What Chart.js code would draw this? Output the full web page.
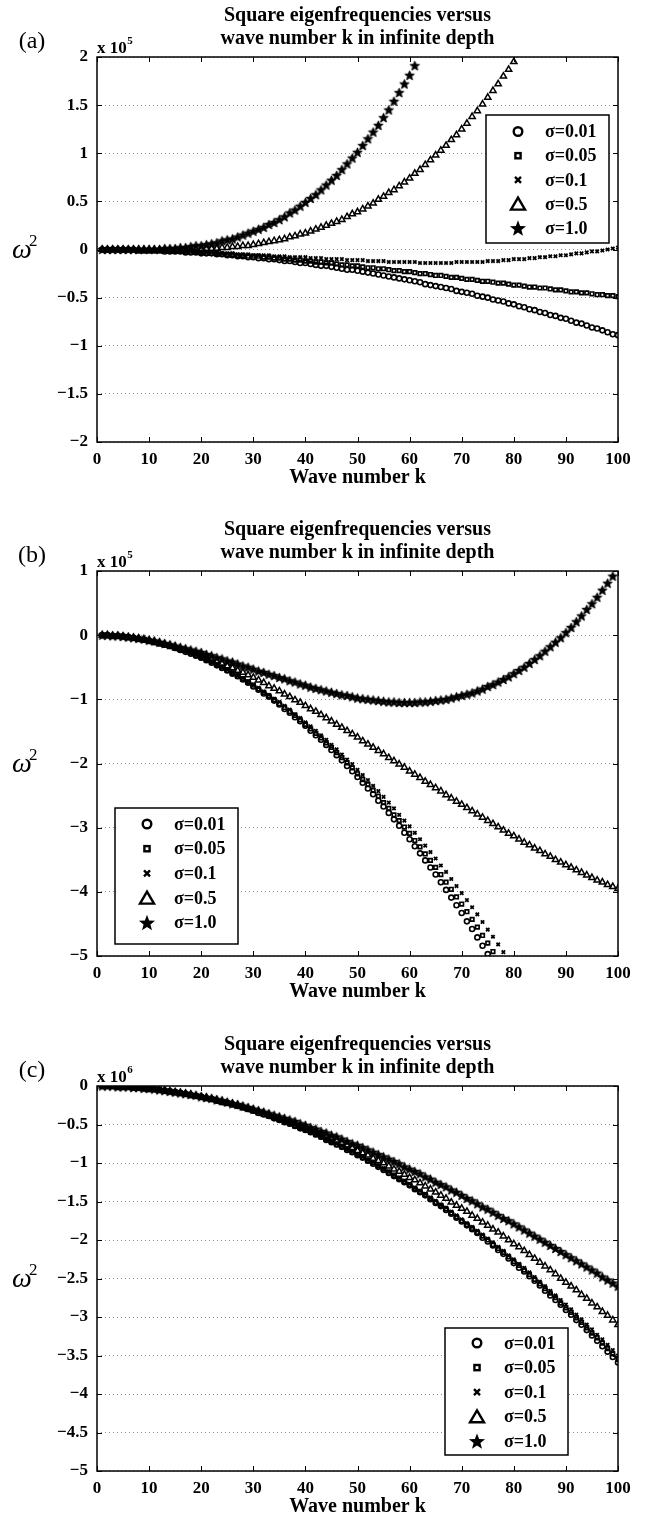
<!DOCTYPE html>
<html>
<head>
<meta charset="utf-8">
<script src="https://cdn.jsdelivr.net/npm/chart.js@4.4.1/dist/chart.umd.min.js"></script>
<style>
  html, body { margin: 0; padding: 0; background: #fff; }
  body { position: relative; width: 646px; height: 1520px; overflow: hidden; }
  .panel { position: absolute; left: 0; width: 646px; height: 491px; }
</style>
</head>
<body>
<div class="panel" style="top:0"><canvas id="chart-a" width="646" height="491"></canvas></div>
<div class="panel" style="top:514px"><canvas id="chart-b" width="646" height="491"></canvas></div>
<div class="panel" style="top:1029px"><canvas id="chart-c" width="646" height="491"></canvas></div>
<script>
// Square eigenfrequencies vs wave number k — three panels

const WAVE_K = Array.from({ length: 100 }, (_, i) => i + 1);
const SIGMA_LABELS = ['σ=0.01', 'σ=0.05', 'σ=0.1', 'σ=0.5', 'σ=1.0'];
const X_TICKS = [0, 10, 20, 30, 40, 50, 60, 70, 80, 90, 100];
const Y_TICKS_A = [-2, -1.5, -1, -0.5, 0, 0.5, 1, 1.5, 2];
const Y_TICKS_B = [-5, -4, -3, -2, -1, 0, 1];
const Y_TICKS_C = [-5, -4.5, -4, -3.5, -3, -2.5, -2, -1.5, -1, -0.5, 0];

// panel (a), omega^2 in units of 1e3
const A_SIG001 = [
  0, 0, 0, 0, 0, 0, 0, -1, -1, -1,
  -1, -1, -2, -2, -2, -2, -3, -3, -3, -4,
  -4, -4, -5, -5, -6, -6, -7, -7, -8, -8,
  -9, -9, -10, -10, -11, -12, -12, -13, -14, -14,
  -15, -16, -17, -17, -18, -19, -20, -21, -21, -22,
  -23, -24, -25, -26, -27, -28, -29, -30, -31, -32,
  -33, -34, -36, -37, -38, -39, -40, -41, -43, -44,
  -45, -46, -48, -49, -50, -52, -53, -54, -56, -57,
  -59, -60, -62, -63, -65, -66, -68, -69, -71, -72,
  -74, -76, -77, -79, -81, -82, -84, -86, -88, -89];
const A_SIG005 = [
  0, 0, 0, 0, 0, 0, 0, -1, -1, -1,
  -1, -1, -1, -2, -2, -2, -2, -3, -3, -3,
  -4, -4, -4, -5, -5, -5, -6, -6, -7, -7,
  -7, -8, -8, -9, -9, -10, -10, -11, -11, -12,
  -12, -13, -13, -14, -14, -15, -16, -16, -17, -17,
  -18, -19, -19, -20, -20, -21, -22, -22, -23, -23,
  -24, -25, -25, -26, -27, -27, -28, -29, -29, -30,
  -31, -31, -32, -33, -33, -34, -35, -35, -36, -37,
  -37, -38, -39, -39, -40, -40, -41, -42, -42, -43,
  -44, -44, -45, -45, -46, -47, -47, -48, -48, -49];
const A_SIG01 = [
  0, 0, 0, 0, 0, 0, 0, -1, -1, -1,
  -1, -1, -1, -2, -2, -2, -2, -2, -3, -3,
  -3, -3, -4, -4, -4, -4, -5, -5, -5, -6,
  -6, -6, -6, -7, -7, -7, -8, -8, -8, -8,
  -9, -9, -9, -10, -10, -10, -10, -11, -11, -11,
  -11, -12, -12, -12, -12, -13, -13, -13, -13, -13,
  -13, -14, -14, -14, -14, -14, -14, -14, -13, -13,
  -13, -13, -13, -13, -12, -12, -12, -11, -11, -10,
  -10, -10, -9, -9, -8, -8, -7, -7, -6, -6,
  -5, -4, -4, -3, -2, -2, -1, 0, 1, 2];
const A_SIG05 = [
  0, 0, 0, 0, 0, 0, 0, 0, 0, 0,
  0, 0, 0, 0, 0, 0, 0, 0, 0, 0,
  1, 1, 1, 2, 2, 3, 3, 4, 4, 5,
  6, 7, 8, 9, 10, 11, 13, 14, 16, 17,
  19, 21, 23, 25, 27, 29, 31, 34, 37, 39,
  42, 45, 48, 52, 55, 59, 62, 66, 70, 74,
  79, 83, 88, 93, 98, 103, 108, 114, 119, 125,
  131, 138, 144, 151, 158, 165, 172, 180, 187, 195];
const A_SIG10 = [
  0, 0, 0, 0, 0, 0, 0, 0, 0, 0,
  0, 0, 1, 1, 1, 2, 2, 3, 4, 4,
  5, 6, 7, 9, 10, 11, 13, 15, 17, 19,
  21, 23, 26, 28, 31, 34, 38, 41, 45, 49,
  53, 57, 62, 67, 72, 77, 83, 89, 95, 101,
  108, 115, 122, 129, 137, 145, 154, 163, 172, 181,
  191];

// panel (b), omega^2 in units of 1e3
const B_SIG001 = [
  0, 0, -1, -1, -2, -3, -4, -6, -7, -9,
  -11, -13, -15, -17, -20, -23, -26, -29, -32, -35,
  -39, -43, -47, -51, -55, -60, -64, -69, -74, -80,
  -85, -91, -96, -102, -108, -115, -121, -128, -134, -141,
  -149, -156, -163, -171, -179, -187, -195, -204, -212, -221,
  -230, -239, -248, -258, -267, -277, -287, -297, -308, -318,
  -329, -340, -351, -362, -373, -385, -397, -409, -421, -433,
  -446, -458, -471, -484, -497];
const B_SIG005 = [
  0, 0, -1, -1, -2, -3, -4, -6, -7, -9,
  -11, -13, -15, -17, -20, -22, -25, -28, -32, -35,
  -39, -42, -46, -50, -55, -59, -64, -68, -73, -78,
  -84, -89, -95, -101, -107, -113, -119, -125, -132, -139,
  -146, -153, -160, -168, -175, -183, -191, -199, -207, -216,
  -225, -233, -242, -251, -261, -270, -280, -289, -299, -309,
  -320, -330, -341, -351, -362, -373, -385, -396, -408, -419,
  -431, -443, -455, -468, -480, -493];
const B_SIG01 = [
  0, 0, -1, -1, -2, -3, -4, -6, -7, -9,
  -11, -13, -15, -17, -20, -22, -25, -28, -31, -35,
  -38, -42, -46, -50, -54, -58, -63, -67, -72, -77,
  -82, -88, -93, -99, -104, -110, -116, -123, -129, -136,
  -142, -149, -156, -163, -171, -178, -186, -194, -201, -210,
  -218, -226, -235, -243, -252, -261, -270, -280, -289, -298,
  -308, -318, -328, -338, -348, -359, -369, -380, -391, -402,
  -413, -424, -435, -447, -459, -470, -482, -494];
const B_SIG05 = [
  0, 0, -1, -1, -2, -3, -4, -5, -7, -8,
  -10, -12, -14, -16, -18, -21, -23, -26, -29, -31,
  -34, -38, -41, -44, -48, -51, -55, -58, -62, -66,
  -70, -74, -79, -83, -87, -92, -96, -101, -105, -110,
  -115, -119, -124, -129, -134, -139, -144, -149, -154, -159,
  -165, -170, -175, -180, -185, -191, -196, -201, -206, -212,
  -217, -222, -228, -233, -238, -243, -249, -254, -259, -264,
  -269, -274, -279, -284, -289, -294, -299, -304, -309, -313,
  -318, -323, -327, -332, -336, -341, -345, -350, -354, -358,
  -362, -366, -370, -374, -378, -382, -385, -389, -392, -395];
const B_SIG10 = [
  0, 0, -1, -1, -2, -3, -4, -5, -6, -8,
  -9, -11, -13, -15, -17, -19, -21, -23, -25, -27,
  -30, -32, -35, -37, -40, -42, -45, -48, -50, -53,
  -56, -58, -61, -63, -66, -68, -71, -73, -76, -78,
  -81, -83, -85, -87, -89, -91, -93, -94, -96, -98,
  -99, -100, -101, -102, -103, -104, -104, -105, -105, -105,
  -105, -104, -104, -103, -102, -101, -100, -98, -96, -94,
  -92, -90, -87, -84, -80, -77, -73, -69, -65, -60,
  -55, -50, -44, -38, -32, -25, -18, -11, -4, 4,
  12, 21, 30, 40, 49, 59, 70, 81, 92];

// panel (c), omega^2 in units of 1e4
const C_SIG001 = [
  0, 0, 0, -1, -1, -1, -2, -2, -3, -4,
  -4, -5, -6, -7, -8, -9, -10, -12, -13, -14,
  -16, -17, -19, -21, -22, -24, -26, -28, -30, -32,
  -35, -37, -39, -42, -44, -47, -49, -52, -55, -57,
  -60, -63, -66, -70, -73, -76, -79, -83, -86, -90,
  -93, -97, -101, -105, -109, -113, -117, -121, -125, -129,
  -134, -138, -142, -147, -152, -156, -161, -166, -171, -176,
  -181, -186, -191, -197, -202, -207, -213, -218, -224, -230,
  -236, -241, -247, -253, -259, -266, -272, -278, -284, -291,
  -297, -304, -310, -317, -324, -331, -338, -345, -352, -359];
const C_SIG005 = [
  0, 0, 0, -1, -1, -1, -2, -2, -3, -4,
  -4, -5, -6, -7, -8, -9, -10, -12, -13, -14,
  -16, -17, -19, -21, -22, -24, -26, -28, -30, -32,
  -34, -37, -39, -41, -44, -46, -49, -52, -54, -57,
  -60, -63, -66, -69, -72, -76, -79, -82, -86, -89,
  -93, -97, -100, -104, -108, -112, -116, -120, -124, -128,
  -133, -137, -141, -146, -151, -155, -160, -165, -170, -175,
  -180, -185, -190, -195, -200, -206, -211, -216, -222, -228,
  -233, -239, -245, -251, -257, -263, -269, -275, -282, -288,
  -294, -301, -307, -314, -321, -327, -334, -341, -348, -355];
const C_SIG01 = [
  0, 0, 0, -1, -1, -1, -2, -2, -3, -4,
  -4, -5, -6, -7, -8, -9, -10, -12, -13, -14,
  -16, -17, -19, -21, -22, -24, -26, -28, -30, -32,
  -34, -36, -39, -41, -44, -46, -49, -51, -54, -57,
  -60, -63, -66, -69, -72, -75, -78, -82, -85, -89,
  -92, -96, -99, -103, -107, -111, -115, -119, -123, -127,
  -132, -136, -140, -145, -149, -154, -158, -163, -168, -173,
  -178, -183, -188, -193, -198, -203, -209, -214, -220, -225,
  -231, -236, -242, -248, -254, -260, -266, -272, -278, -284,
  -290, -297, -303, -310, -316, -323, -329, -336, -343, -350];
const C_SIG05 = [
  0, 0, 0, -1, -1, -1, -2, -2, -3, -4,
  -4, -5, -6, -7, -8, -9, -10, -11, -13, -14,
  -15, -17, -18, -20, -22, -23, -25, -27, -29, -31,
  -33, -35, -37, -40, -42, -44, -47, -49, -52, -54,
  -57, -60, -62, -65, -68, -71, -74, -77, -80, -84,
  -87, -90, -94, -97, -100, -104, -108, -111, -115, -119,
  -122, -126, -130, -134, -138, -142, -146, -151, -155, -159,
  -163, -168, -172, -177, -181, -186, -190, -195, -200, -205,
  -209, -214, -219, -224, -229, -234, -239, -244, -250, -255,
  -260, -265, -271, -276, -282, -287, -293, -298, -304, -310];
const C_SIG10 = [
  0, 0, 0, -1, -1, -1, -2, -2, -3, -3,
  -4, -5, -6, -7, -8, -9, -10, -11, -12, -14,
  -15, -16, -18, -19, -21, -23, -24, -26, -28, -30,
  -32, -34, -36, -38, -40, -42, -44, -46, -49, -51,
  -54, -56, -59, -61, -64, -66, -69, -72, -75, -77,
  -80, -83, -86, -89, -92, -95, -98, -101, -105, -108,
  -111, -114, -118, -121, -125, -128, -131, -135, -138, -142,
  -146, -149, -153, -157, -160, -164, -168, -172, -175, -179,
  -183, -187, -191, -195, -199, -203, -207, -211, -215, -219,
  -223, -227, -231, -235, -239, -243, -248, -252, -256, -260];

const SERIF = '"Liberation Serif", "Times New Roman", serif';
const TICK_FONT = { family: SERIF, size: 17, weight: 'bold' };

function starPath(ctx, cx, cy, ro, ri) {
  ctx.beginPath();
  for (let i = 0; i < 10; i++) {
    const r = i % 2 ? ri : ro;
    const ang = -Math.PI / 2 + i * Math.PI / 5;
    ctx.lineTo(cx + r * Math.cos(ang), cy + r * Math.sin(ang));
  }
  ctx.closePath();
}

function starImage(ro) {
  const c = document.createElement('canvas');
  const s = Math.ceil(ro * 2) + 3;
  c.width = c.height = s;
  const g = c.getContext('2d');
  starPath(g, s / 2, s / 2 + 0.4, ro, ro * 0.45);
  g.fillStyle = '#000';
  g.fill();
  g.strokeStyle = '#000';
  g.lineWidth = 0.8;
  g.stroke();
  return c;
}

const MARKERS = [
  { pointStyle: 'circle', pointRadius: 2.5, pointBorderWidth: 1.6 },
  { pointStyle: 'rect', pointRadius: 2.5, pointBorderWidth: 1.7 },
  { pointStyle: 'crossRot', pointRadius: 2.4, pointBorderWidth: 1.8 },
  { pointStyle: 'triangle', pointRadius: 3.6, pointBorderWidth: 1.5 },
  { pointStyle: starImage(5), pointRadius: 5, pointBorderWidth: 0 },
];

function legendMarker(ctx, i, x, y) {
  ctx.save();
  ctx.strokeStyle = '#000';
  ctx.fillStyle = '#000';
  ctx.lineWidth = 2.4;
  ctx.beginPath();
  if (i === 0) {
    ctx.arc(x, y, 4.3, 0, Math.PI * 2);
    ctx.stroke();
  } else if (i === 1) {
    ctx.strokeRect(x - 2.6, y - 2.6, 5.2, 5.2);
  } else if (i === 2) {
    ctx.moveTo(x - 3, y - 3); ctx.lineTo(x + 3, y + 3);
    ctx.moveTo(x + 3, y - 3); ctx.lineTo(x - 3, y + 3);
    ctx.stroke();
  } else if (i === 3) {
    ctx.moveTo(x, y - 6.5); ctx.lineTo(x + 7, y + 5.5); ctx.lineTo(x - 7, y + 5.5);
    ctx.closePath();
    ctx.stroke();
  } else {
    starPath(ctx, x, y + 0.5, 8.5, 3.6);
    ctx.fill();
  }
  ctx.restore();
}

function fmtTick(v) {
  return v < 0 ? '\u2212' + (-v) : String(v);
}

const panelDecor = {
  id: 'panelDecor',
  afterDraw(chart, args, opts) {
    const { ctx, chartArea: a, scales: { x, y } } = chart;
    const cx = (a.left + a.right) / 2;
    const cy = (a.top + a.bottom) / 2;
    ctx.save();

    // box and inward ticks
    ctx.strokeStyle = '#000';
    ctx.lineWidth = 1.5;
    ctx.strokeRect(a.left, a.top, a.right - a.left, a.bottom - a.top);
    ctx.lineWidth = 1;
    ctx.beginPath();
    X_TICKS.forEach(v => {
      const px = Math.round(x.getPixelForValue(v)) + 0.5;
      ctx.moveTo(px, a.bottom); ctx.lineTo(px, a.bottom - 5);
      ctx.moveTo(px, a.top); ctx.lineTo(px, a.top + 5);
    });
    opts.yTicks.forEach(v => {
      const py = Math.round(y.getPixelForValue(v)) + 0.5;
      ctx.moveTo(a.left, py); ctx.lineTo(a.left + 5, py);
      ctx.moveTo(a.right, py); ctx.lineTo(a.right - 5, py);
    });
    ctx.stroke();

    // titles and labels
    ctx.fillStyle = '#000';
    ctx.textAlign = 'center';
    ctx.textBaseline = 'middle';
    ctx.font = 'bold 20px ' + SERIF;
    ctx.fillText('Square eigenfrequencies versus', cx, 16);
    ctx.fillText('wave number k in infinite depth', cx, 39);
    ctx.fillText('Wave number k', cx, 478);
    ctx.font = '24px ' + SERIF;
    ctx.fillText(opts.tag, 32, 42);

    ctx.textAlign = 'left';
    ctx.font = 'bold 17px ' + SERIF;
    ctx.fillText('x 10', a.left, 49);
    const w = ctx.measureText('x 10').width;
    ctx.font = 'bold 11px ' + SERIF;
    ctx.fillText(opts.exp, a.left + w + 0.5, 41);

    ctx.font = 'italic 28px ' + SERIF;
    ctx.fillText('ω', 12, cy + 1);
    ctx.font = '17px ' + SERIF;
    ctx.fillText('2', 29, cy - 8);

    // legend
    const lg = opts.legend;
    ctx.fillStyle = '#fff';
    ctx.fillRect(lg.left, lg.top, lg.width, lg.height);
    ctx.strokeStyle = '#000';
    ctx.lineWidth = 1.5;
    ctx.strokeRect(lg.left, lg.top, lg.width, lg.height);
    ctx.font = 'bold 18px ' + SERIF;
    SIGMA_LABELS.forEach((label, i) => {
      const ry = lg.top + lg.first + i * lg.gap;
      legendMarker(ctx, i, lg.left + 32, ry);
      ctx.fillStyle = '#000';
      ctx.fillText(label, lg.left + 59, ry + 1);
    });
    ctx.restore();
  }
};

function buildPanel(id, sets, yMin, yMax, yTicks, decor) {
  new Chart(document.getElementById(id), {
    type: 'scatter',
    data: {
      datasets: sets.map((vals, i) => ({
        label: SIGMA_LABELS[i],
        data: vals.map((v, j) => ({ x: WAVE_K[j], y: v / 100 })),
        order: sets.length - i,
        showLine: false,
        pointBorderColor: '#000',
        pointBackgroundColor: 'rgba(0,0,0,0)',
        ...MARKERS[i],
      })),
    },
    options: {
      responsive: false,
      animation: false,
      devicePixelRatio: 1,
      events: [],
      layout: { padding: { top: 57, right: 28, left: 0, bottom: 0 } },
      plugins: {
        legend: { display: false },
        tooltip: { enabled: false },
        panelDecor: { yTicks, ...decor },
      },
      scales: {
        x: {
          type: 'linear',
          min: 0,
          max: 100,
          afterFit: s => { s.height = 49; },
          afterBuildTicks: s => { s.ticks = X_TICKS.map(v => ({ value: v })); },
          grid: { display: false, drawTicks: false },
          border: { display: false },
          ticks: { color: '#000', font: TICK_FONT, padding: 7, maxRotation: 0, autoSkip: false },
        },
        y: {
          type: 'linear',
          min: yMin,
          max: yMax,
          afterFit: s => { s.width = 97; },
          afterBuildTicks: s => { s.ticks = yTicks.map(v => ({ value: v })); },
          grid: { color: '#8c8c8c', lineWidth: 1, drawTicks: false },
          border: { display: false, dash: [1, 3] },
          ticks: { color: '#000', font: TICK_FONT, padding: 9, autoSkip: false, callback: v => fmtTick(v) },
        },
      },
    },
    plugins: [panelDecor],
  });
}

buildPanel('chart-a', [A_SIG001, A_SIG005, A_SIG01, A_SIG05, A_SIG10], -2, 2, Y_TICKS_A, {
  tag: '(a)', exp: '5',
  legend: { left: 486, top: 115, width: 123, height: 128, first: 16.5, gap: 24.2 },
});
buildPanel('chart-b', [B_SIG001, B_SIG005, B_SIG01, B_SIG05, B_SIG10], -5, 1, Y_TICKS_B, {
  tag: '(b)', exp: '5',
  legend: { left: 115, top: 294, width: 123, height: 136, first: 16, gap: 24.7 },
});
buildPanel('chart-c', [C_SIG001, C_SIG005, C_SIG01, C_SIG05, C_SIG10], -5, 0, Y_TICKS_C, {
  tag: '(c)', exp: '6',
  legend: { left: 445, top: 299, width: 123, height: 127, first: 15, gap: 24.6 },
});
</script>
</body>
</html>
